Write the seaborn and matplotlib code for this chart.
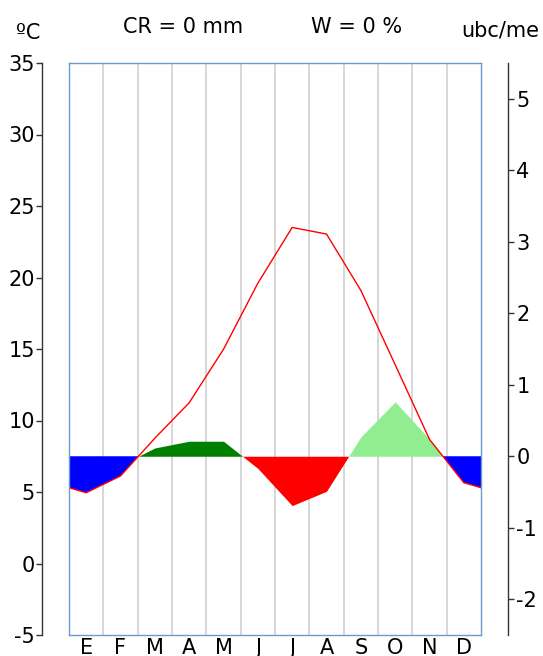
import numpy as np
import pandas as pd
import matplotlib
matplotlib.use("Agg")
import matplotlib.pyplot as plt
import seaborn as sns

# ---------------- data ----------------
months = ["E", "F", "M", "A", "M", "J", "J", "A", "S", "O", "N", "D"]
temp = [4.95, 6.12, 8.76, 11.24, 14.98, 19.6, 23.5, 23.04, 19.1, 13.9, 8.68, 5.65]
bio_spring = [0.116, 0.21, 0.21]      # M, A, M  (dark green)
bio_summer = [-0.17, -0.69, -0.49]    # J, J, A  (red)
bio_autumn = [0.27, 0.76, 0.24]       # S, O, N  (light green)
temp_ticks = [-5, 0, 5, 10, 15, 20, 25, 30, 35]
ubc_ticks = [-2, -1, 0, 1, 2, 3, 4, 5]
t_base = 7.5
title_left = "ºC"
title_cr = "CR = 0 mm"
title_w = "W = 0 %"
title_right = "ubc/me"

# ---------------- style ----------------
sns.set_theme(style="white")
plt.rcParams["font.family"] = ["DejaVu Sans"]
plt.rcParams["axes.unicode_minus"] = False
plt.rcParams["text.color"] = "black"
plt.rcParams["xtick.labelcolor"] = "black"
plt.rcParams["ytick.labelcolor"] = "black"

W, H = 543, 656
fig = plt.figure(figsize=(W / 100, H / 100), dpi=100)
rect = [69 / W, 21 / H, 412 / W, 572 / H]
PX = 0.72  # points per pixel at 100 dpi
FS = 15

def cross(x0, y0, x1, y1, level=0.0):
    return x0 + (level - y0) * (x1 - x0) / (y1 - y0)

centers = np.arange(12) + 0.5

# ---------------- bioclimatic axis (back) ----------------
ax_bio = fig.add_axes(rect, zorder=1)
ax_bio.set_xlim(0, 12)
ax_bio.set_ylim(-2.5, 5.5)
for m in range(1, 12):
    ax_bio.axvline(m, color="#d4d4d4", lw=1.3, zorder=0)
for s in ["left", "top", "bottom"]:
    ax_bio.spines[s].set_visible(False)
ax_bio.spines["right"].set_position(("outward", 27 * PX))
ax_bio.spines["right"].set_color("#333333")
ax_bio.spines["right"].set_linewidth(1)
ax_bio.yaxis.tick_right()
ax_bio.set_yticks(ubc_ticks)
ax_bio.set_yticklabels([str(v) for v in ubc_ticks])
ax_bio.tick_params(axis="y", direction="out", length=4, width=1, color="#333333",
                   labelcolor="black", labelsize=FS, pad=2, right=True, left=False)
ax_bio.set_xticks([])

# spring polygon (dark green)
x_sp0 = cross(centers[1], temp[1], centers[2], temp[2], t_base)
x_sp1 = cross(centers[4], bio_spring[2], centers[5], bio_summer[0])
xs = [x_sp0] + list(centers[2:5]) + [x_sp1]
ys = [0] + bio_spring + [0]
ax_bio.fill_between(xs, ys, 0, color="#008000", lw=0)

# summer polygon (red)
x_su1 = cross(centers[7], bio_summer[2], centers[8], bio_autumn[0])
xs = [x_sp1] + list(centers[5:8]) + [x_su1]
ys = [0] + bio_summer + [0]
ax_bio.fill_between(xs, ys, 0, color="#ff0000", lw=0)

# autumn polygon (light green)
x_au1 = cross(centers[10], temp[10], centers[11], temp[11], t_base)
xs = [x_su1] + list(centers[8:11]) + [x_au1]
ys = [0] + bio_autumn + [0]
ax_bio.fill_between(xs, ys, 0, color="#90ee90", lw=0)

# ---------------- temperature axis (main frame) ----------------
ax = fig.add_axes(rect, zorder=2)
ax.patch.set_alpha(0)
ax.set_xlim(0, 12)
ax.set_ylim(-5, 35)
for s in ax.spines.values():
    s.set_visible(True)
    s.set_color("#6a9ad0")
    s.set_linewidth(1)
ax.set_yticks([])
ax.set_xticks(centers)
ax.set_xticklabels(months)
ax.tick_params(axis="x", length=0, labelsize=FS, pad=2.5, labelcolor="black")

edge = (temp[0] + temp[-1]) / 2
x_ext = np.concatenate([[0], centers, [12]])
t_ext = np.array([edge] + temp + [edge])
ax.fill_between(x_ext, t_ext, t_base, where=t_ext <= t_base, interpolate=True,
                color="#0000ff", lw=0)
df = pd.DataFrame({"x": x_ext, "t": t_ext})
sns.lineplot(data=df, x="x", y="t", ax=ax, color="#ff0000", lw=1, sort=False)
ax.set_xlabel("")
ax.set_ylabel("")

# ---------------- left temperature scale ----------------
ax_l = fig.add_axes(rect, zorder=3)
ax_l.patch.set_alpha(0)
ax_l.set_xlim(0, 12)
ax_l.set_ylim(-5, 35)
for s in ["right", "top", "bottom"]:
    ax_l.spines[s].set_visible(False)
ax_l.spines["left"].set_position(("outward", 27 * PX))
ax_l.spines["left"].set_color("#333333")
ax_l.spines["left"].set_linewidth(1)
ax_l.set_yticks(temp_ticks)
ax_l.set_yticklabels([str(v) for v in temp_ticks])
ax_l.tick_params(axis="y", direction="out", length=4, width=1, color="#333333",
                 labelcolor="black", labelsize=FS, pad=1, left=True)
ax_l.set_xticks([])

# ---------------- header texts ----------------
fig.text(28 / W, 1 - 33 / H, title_left, ha="center", va="center", fontsize=FS, color="black")
fig.text(183 / W, 1 - 27 / H, title_cr, ha="center", va="center", fontsize=FS, color="black")
fig.text(357 / W, 1 - 27 / H, title_w, ha="center", va="center", fontsize=FS, color="black")
fig.text(500 / W, 1 - 31 / H, title_right, ha="center", va="center", fontsize=FS, color="black")

fig.savefig("out.png", dpi=100)
